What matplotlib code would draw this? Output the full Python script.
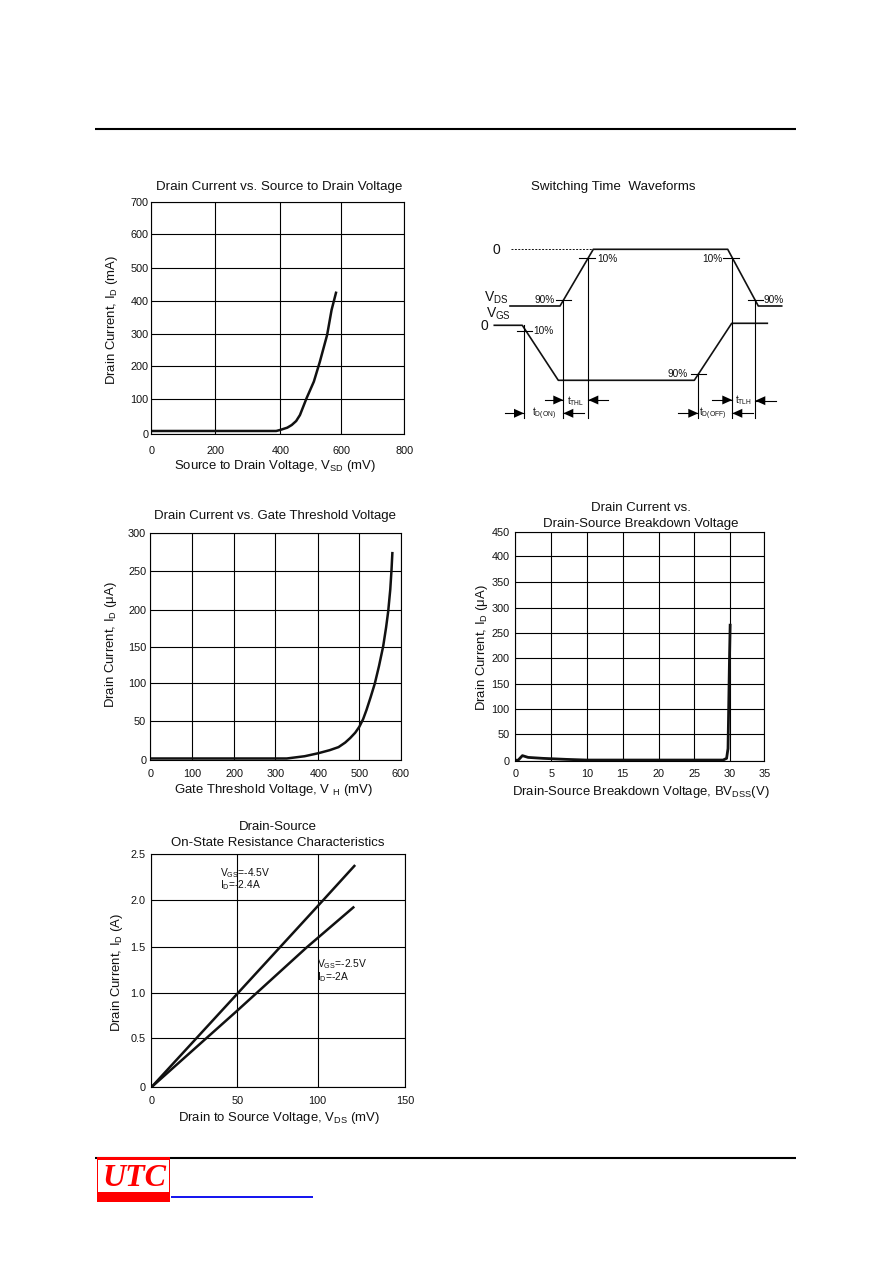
import matplotlib
matplotlib.use("Agg")
import matplotlib.pyplot as plt
from matplotlib.patches import Rectangle, Polygon

plt.rcParams['font.family'] = ['Liberation Sans', 'DejaVu Sans']
plt.rcParams['mathtext.fontset'] = 'custom'
plt.rcParams['mathtext.rm'] = 'Liberation Sans'
plt.rcParams['mathtext.it'] = 'Liberation Sans'
plt.rcParams['mathtext.bf'] = 'Liberation Sans:bold'

W, H = 892, 1263
LABEL = 9.45

# ---- chart 1
c1_x = [0, 200, 395, 407, 430, 444, 458, 470, 491, 514, 533, 556, 570, 584]
c1_y = [10, 10, 10, 13, 20, 28, 40, 58, 109, 159, 219, 300, 375, 427]
c1_xticks = [0, 202, 408, 600, 800]
c1_xlabels = ['0', '200', '400', '600', '800']
c1_yticks = [0, 105.6, 205, 302, 401, 501, 603, 700]
c1_ylabels = ['0', '100', '200', '300', '400', '500', '600', '700']
# ---- chart 2
c2_x = [0, 200, 327, 370, 403, 430, 451, 467, 479, 491, 501, 510, 518, 528, 538, 548, 558, 565, 570, 575, 578, 580]
c2_y = [2, 2, 2, 5, 9, 13, 17, 23, 29, 36, 44, 54, 66, 83, 101, 124, 150, 175, 196, 225, 251, 273]
c2_xticks = [0, 100.6, 201, 299.5, 402.5, 500.8, 600]
c2_xlabels = ['0', '100', '200', '300', '400', '500', '600']
c2_yticks = [0, 51, 101, 149.5, 198.4, 249, 300]
c2_ylabels = ['0', '50', '100', '150', '200', '250', '300']
# ---- chart 3
c3_x = [0, 0.4, 1.0, 1.8, 3.9, 7.2, 10, 29.2, 29.7, 29.9, 30.1, 30.2]
c3_y = [1, 1, 10, 6.5, 4.6, 2.6, 1.3, 1.3, 4.6, 24, 195, 267]
c3_xticks = [0, 5.05, 10.05, 15.1, 20.15, 25.15, 30.15, 35]
c3_xlabels = ['0', '5', '10', '15', '20', '25', '30', '35']
c3_yticks = [0, 51.9, 101.8, 150.4, 201.7, 251.6, 301.5, 351.5, 402.7, 450]
c3_ylabels = ['0', '50', '100', '150', '200', '250', '300', '350', '400', '450']
# ---- chart 4
c4_x1 = [0, 50.6, 101.6, 119.9]
c4_y1 = [0, 1.0, 2.01, 2.375]
c4_x2 = [0, 50.6, 91.7, 119.3]
c4_y2 = [0, 0.82, 1.5, 1.93]
c4_xticks = [0, 50.8, 98.2, 150]
c4_xlabels = ['0', '50', '100', '150']
c4_yticks = [0, 0.526, 1.009, 1.502, 2.006, 2.5]
c4_ylabels = ['0', '0.5', '1.0', '1.5', '2.0', '2.5']

# ---- waveform diagram (reference page pixels)
vds_x = [510, 560, 593.3, 727.7, 758.3, 781.7]
vds_y = [306, 306, 249.3, 249.3, 306, 306]
vgs_x = [494.3, 522.3, 558.3, 694.3, 731.7, 767.3]
vgs_y = [325.3, 325.3, 380.3, 380.3, 323.3, 323.3]
dash_x = [510.7, 593.3]
dash_y = [249.3, 249.3]
drop_x = [524, 563.3, 588.3, 698.3, 732.3, 755.3]
drop_top = [325.3, 300, 258.3, 373.7, 258.3, 300]
drop_bot = 418.3
cross_x0 = [516.7, 556, 579.3, 691, 723.3, 748.3]
cross_x1 = [531.7, 570.7, 595.3, 705.7, 739.3, 762.7]
cross_y = [331, 300, 258.3, 373.7, 258.3, 300]
arrow_tail_x = [545, 608.3, 678.3, 505, 584, 753.3, 775.7, 712.3]
arrow_tip_x = [563.3, 588.3, 698.3, 524, 563.3, 732.3, 755.3, 732.3]
arrow_y = [400, 400, 413.3, 413.3, 413.3, 413.3, 400.7, 400]


def axes_px(l, r, t, b):
    return fig.add_axes([l / W, 1 - b / H, (r - l) / W, (b - t) / H])


def ptext(x, y, s, size=9.65, **kw):
    kw.setdefault('ha', 'center')
    kw.setdefault('va', 'center')
    fig.text(x / W, 1 - y / H, s, fontsize=size, color='#111111', **kw)


def chart(box, xlim, ylim, xt, xl, yt, yl, xpad, ypad):
    ax = axes_px(*box)
    ax.set_xlim(*xlim)
    ax.set_ylim(*ylim)
    ax.set_xticks(xt, xl)
    ax.set_yticks(yt, yl)
    ax.tick_params(length=0, labelsize=7.8, labelcolor='#111111')
    ax.tick_params(axis='x', pad=xpad)
    ax.tick_params(axis='y', pad=ypad)
    ax.grid(True, color='black', lw=0.8)
    ax.set_axisbelow(True)
    for s in ax.spines.values():
        s.set_linewidth(0.8)
    return ax


fig = plt.figure(figsize=(W / 100, H / 100), dpi=100, facecolor='white')

# page rules
page = fig.add_axes([0, 0, 1, 1], zorder=-1)
page.set_xlim(0, W)
page.set_ylim(H, 0)
page.axis('off')
page.plot([95, 796], [128.5, 128.5], color='black', lw=1.5, solid_capstyle='butt')
page.plot([95, 796], [1158, 1158], color='black', lw=1.5, solid_capstyle='butt')
page.plot([171, 313], [1196.8, 1196.8], color='#0000ee', lw=1.3, solid_capstyle='butt')
page.add_patch(Rectangle((97, 1157), 73, 45, fc='#ff0000', ec='none', zorder=3))
page.add_patch(Rectangle((98, 1160), 71, 32, fc='white', ec='none', zorder=3))
page.text(134, 1178, 'UTC', color='#ff0000', fontsize=23, ha='center', va='center',
          family='Liberation Serif', style='italic', weight='bold', zorder=4)

# chart 1
ax = chart((151.3, 404.3, 202.3, 434.3), (0, 800), (0, 700),
           c1_xticks, c1_xlabels, c1_yticks, c1_ylabels, 8.2, 2.0)
ax.plot(c1_x, c1_y, color='#111111', lw=1.8)
ptext(279, 187, 'Drain Current vs. Source to Drain Voltage')
ptext(275, 466.5, r'Source to Drain Voltage, V$_{\mathrm{SD}}$ (mV)', size=LABEL)
ptext(112.5, 320, r'Drain Current, I$_{\mathrm{D}}$ (mA)', size=LABEL, rotation=90)

# chart 2
ax = chart((150.3, 400.7, 532.7, 760), (0, 600), (0, 300),
           c2_xticks, c2_xlabels, c2_yticks, c2_ylabels, 6.5, 3.0)
ax.plot(c2_x, c2_y, color='#111111', lw=1.8)
ptext(275, 516.5, 'Drain Current vs. Gate Threshold Voltage', size=9.5)
ptext(273, 790.5, r'Gate Threshold Voltage, V $_{\mathrm{H}}$ (mV)', size=LABEL)
ptext(111, 645, r'Drain Current, I$_{\mathrm{D}}$ ($\mathrm{\mu}$A)', size=LABEL, rotation=90)

# chart 3
ax = chart((515.3, 764.3, 532.3, 760.7), (0, 35), (0, 450),
           c3_xticks, c3_xlabels, c3_yticks, c3_ylabels, 6.0, 4.2)
ax.plot(c3_x, c3_y, color='#111111', lw=2.0)
ptext(640.5, 508, 'Drain Current vs.', size=9.5)
ptext(640.5, 524, 'Drain-Source Breakdown Voltage', size=9.5)
ptext(641, 791.5, r'Drain-Source Breakdown Voltage, BV$_{\mathrm{DSS}}$(V)', size=LABEL)
ptext(481.5, 648, r'Drain Current, I$_{\mathrm{D}}$ ($\mathrm{\mu}$A)', size=LABEL, rotation=90)

# chart 4
ax = chart((151.3, 405.3, 854.3, 1087.3), (0, 150), (0, 2.5),
           c4_xticks, c4_xlabels, c4_yticks, c4_ylabels, 6.0, 4.2)
ax.plot(c4_x1, c4_y1, color='#111111', lw=1.8)
ax.plot(c4_x2, c4_y2, color='#111111', lw=1.8)
ptext(278, 827.5, 'Drain-Source', size=9.5)
ptext(278, 843.5, 'On-State Resistance Characteristics', size=9.5)
ptext(279, 1117.5, r'Drain to Source Voltage, V$_{\mathrm{DS}}$ (mV)', size=LABEL)
ptext(117, 972, r'Drain Current, I$_{\mathrm{D}}$ (A)', size=LABEL, rotation=90)
ptext(220, 873.5, r'V$_{\mathrm{GS}}$=-4.5V', size=7.4, ha='left')
ptext(220, 885.5, r'I$_{\mathrm{D}}$=-2.4A', size=7.4, ha='left')
ptext(317, 964, r'V$_{\mathrm{GS}}$=-2.5V', size=7.4, ha='left')
ptext(317, 977, r'I$_{\mathrm{D}}$=-2A', size=7.4, ha='left')

# waveform
d = axes_px(460, 800, 170, 430)
d.set_xlim(460, 800)
d.set_ylim(430, 170)
d.axis('off')
d.plot(vds_x, vds_y, color='#111111', lw=1.2)
d.plot(vgs_x, vgs_y, color='#111111', lw=1.2)
d.plot(dash_x, dash_y, color='#111111', lw=0.7, ls=(0, (2, 1.5)))
for x, t in zip(drop_x, drop_top):
    d.plot([x, x], [t, drop_bot], color='black', lw=0.8)
for x0, x1, y in zip(cross_x0, cross_x1, cross_y):
    d.plot([x0, x1], [y, y], color='black', lw=0.8)
for x0, x1, y in zip(arrow_tail_x, arrow_tip_x, arrow_y):
    d.plot([x0, x1], [y, y], color='black', lw=0.8)
    s = 1 if x1 > x0 else -1
    d.add_patch(Polygon([(x1, y), (x1 - 10 * s, y - 4.5), (x1 - 10 * s, y + 4.5)], fc='black', ec='none'))
ptext(613, 187, 'Switching Time  Waveforms')
ptext(496, 250.5, '0', size=10)
ptext(607, 258.5, '10%', size=7.3)
ptext(545, 300, '90%', size=7.3)
ptext(496, 297.5, r'V$_{\mathrm{DS}}$', size=10)
ptext(498, 314, r'V$_{\mathrm{GS}}$', size=10)
ptext(484, 326, '0', size=10)
ptext(543.5, 331, '10%', size=7.3)
ptext(712.5, 258.5, '10%', size=7.3)
ptext(774, 300, '90%', size=7.3)
ptext(678, 373.7, '90%', size=7.3)
ptext(576, 401, r't$_{\mathrm{THL}}$', size=7)
ptext(544.5, 414, r't$_{\mathrm{D(ON)}}$', size=7)
ptext(744, 400.5, r't$_{\mathrm{TLH}}$', size=7)
ptext(713, 414, r't$_{\mathrm{D(OFF)}}$', size=7)

fig.savefig('out.png', dpi=100, facecolor='white')
